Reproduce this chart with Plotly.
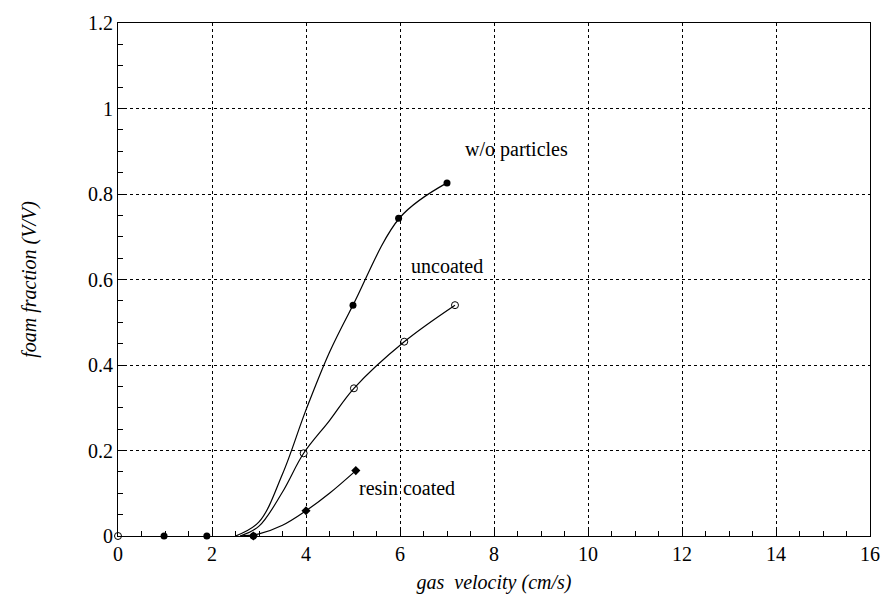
import plotly.graph_objects as go

# Measured data points
wo_x = [0.98, 1.89, 2.88, 5.0, 5.97, 7.0]
wo_y = [0.0, 0.0, 0.0, 0.54, 0.743, 0.826]
uc_x = [0.0, 3.95, 5.02, 6.09, 7.17]
uc_y = [0.0, 0.1935, 0.3455, 0.4545, 0.54]
rc_x = [2.88, 4.0, 5.06]
rc_y = [0.0, 0.059, 0.153]

# Fitted curves
wo_curve_x = [2.5, 3.0, 3.5, 4.0, 4.5, 5.0, 6.0, 7.0]
wo_curve_y = [0.0, 0.033, 0.145, 0.295, 0.43, 0.54, 0.745, 0.826]
uc_curve_x = [2.6, 3.0, 3.5, 3.95, 4.5, 5.02, 6.09, 7.17]
uc_curve_y = [0.0, 0.023, 0.103, 0.1935, 0.27, 0.3455, 0.4545, 0.54]
rc_curve_x = [2.6, 3.0, 3.5, 4.0, 4.5, 5.06]
rc_curve_y = [0.0, 0.005, 0.025, 0.059, 0.10, 0.153]

labels = ["w/o particles", "uncoated", "resin coated"]
label_x = [8.47, 7.0, 6.14]
label_y = [0.905, 0.632, 0.112]

FONT = "Liberation Serif"

fig = go.Figure()
line_style = dict(color="black", width=1.2, shape="spline", smoothing=1.0)
for cx, cy in [(wo_curve_x, wo_curve_y), (uc_curve_x, uc_curve_y), (rc_curve_x, rc_curve_y)]:
    fig.add_trace(go.Scatter(x=cx, y=cy, mode="lines", line=line_style,
                             hoverinfo="skip", showlegend=False))

fig.add_trace(go.Scatter(x=wo_x, y=wo_y, mode="markers", showlegend=False, cliponaxis=False,
                         marker=dict(symbol="circle", size=7, color="black")))
fig.add_trace(go.Scatter(x=uc_x, y=uc_y, mode="markers", showlegend=False, cliponaxis=False,
                         marker=dict(symbol="circle-open", size=7, color="black",
                                     line=dict(width=1))))
fig.add_trace(go.Scatter(x=rc_x, y=rc_y, mode="markers", showlegend=False, cliponaxis=False,
                         marker=dict(symbol="diamond", size=7, color="black")))

for t, x, y in zip(labels, label_x, label_y):
    fig.add_annotation(x=x, y=y, text=t, showarrow=False,
                       font=dict(family=FONT, size=20, color="black"))

axis_common = dict(
    showline=True, linecolor="black", linewidth=1, mirror=True,
    showgrid=True, gridcolor="black", gridwidth=1, griddash="dot",
    zeroline=False, ticks="inside", ticklen=7, tickcolor="black",
    tickfont=dict(family=FONT, size=20, color="black"),
)

fig.update_xaxes(range=[0, 16], dtick=2, tick0=0,
                 minor=dict(dtick=0.5, ticks="inside", ticklen=5, tickcolor="black", showgrid=False),
                 title=dict(text="<i>gas  velocity (cm/s)</i>", font=dict(family=FONT, size=20, color="black"),
                            standoff=10),
                 **axis_common)
fig.update_yaxes(range=[0, 1.2], dtick=0.2, tick0=0,
                 minor=dict(dtick=0.05, ticks="inside", ticklen=5, tickcolor="black", showgrid=False),
                 tickformat="~g",
                 title=dict(text="<i>foam fraction (V/V)</i>", font=dict(family=FONT, size=20, color="black"),
                            standoff=46),
                 **axis_common)

fig.update_layout(
    width=892, height=604,
    margin=dict(l=118, r=15, t=23, b=68),
    plot_bgcolor="white", paper_bgcolor="white",
    font=dict(family=FONT, color="black"),
)

fig.write_html("out.html")
